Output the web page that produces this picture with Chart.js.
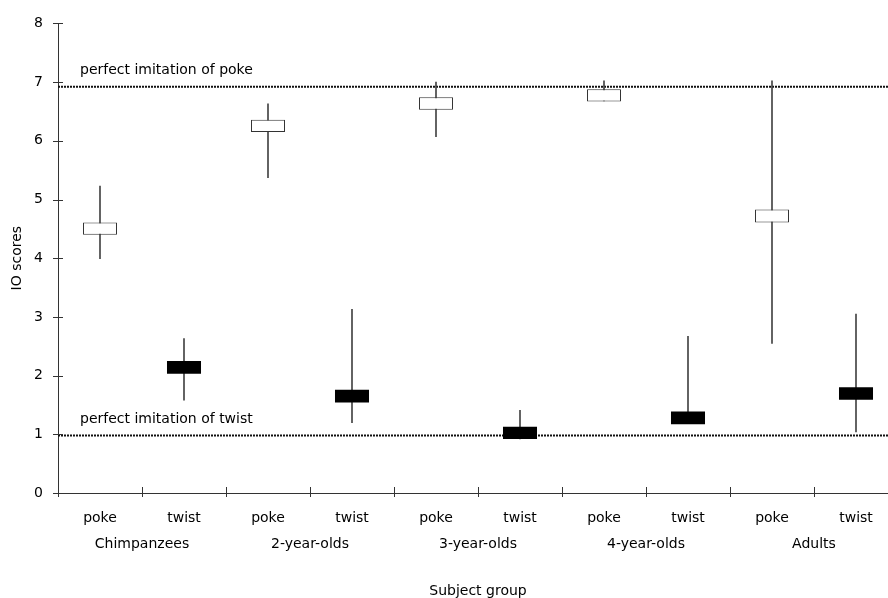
<!DOCTYPE html>
<html lang="en">
<head>
  <meta charset="UTF-8" />
  <title>IO scores by subject group</title>
  <script src="https://cdn.jsdelivr.net/npm/chart.js"></script>
  <style>
    body {
      margin: 0;
      background: #ffffff;
    }

    .wrap {
      width: 888px;
      height: 598px;
      overflow: hidden;
    }
  </style>
</head>
<body>
  <div class="wrap"><canvas id="ioChart" width="900" height="598"></canvas></div>

  <script>
    const categories = ['poke', 'twist', 'poke', 'twist', 'poke', 'twist', 'poke', 'twist', 'poke', 'twist'];
    const groups = ['Chimpanzees', '2-year-olds', '3-year-olds', '4-year-olds', 'Adults'];

    // box edges and whisker ends, one per category
    const boxLow = [4.40, 2.03, 6.15, 1.54, 6.53, 0.92, 6.67, 1.17, 4.61, 1.59];
    const boxHigh = [4.61, 2.25, 6.36, 1.76, 6.74, 1.13, 6.88, 1.39, 4.83, 1.80];
    const whiskerLow = [3.99, 1.58, 5.37, 1.20, 6.07, 0.92, 6.68, 1.18, 2.55, 1.04];
    const whiskerHigh = [5.23, 2.63, 6.63, 3.13, 7.00, 1.41, 7.02, 2.67, 7.02, 3.05];

    const refLines = [6.92, 0.98];
    const refLabels = ['perfect imitation of poke', 'perfect imitation of twist'];

    const FONT = { family: "'DejaVu Sans', sans-serif", size: 14 };

    const pokeBoxes = categories.map((c, i) => c === 'poke' ? [boxLow[i], boxHigh[i]] : null);
    const twistBoxes = categories.map((c, i) => c === 'twist' ? [boxLow[i], boxHigh[i]] : null);
    const whiskers = categories.map((c, i) => [whiskerLow[i], whiskerHigh[i]]);

    // dotted reference lines + their captions
    const refLinePlugin = {
      id: 'refLines',
      beforeDatasetsDraw(chart) {
        const { ctx, chartArea, scales: { y } } = chart;
        ctx.save();
        ctx.strokeStyle = '#111';
        ctx.lineWidth = 2;
        ctx.setLineDash([2, 1]);
        ctx.font = "14px 'DejaVu Sans', sans-serif";
        ctx.fillStyle = '#000';
        ctx.textBaseline = 'middle';
        refLines.forEach((v, i) => {
          const py = y.getPixelForValue(v);
          ctx.beginPath();
          ctx.moveTo(chartArea.left, py);
          ctx.lineTo(chartArea.right, py);
          ctx.stroke();
          ctx.fillText(refLabels[i], chartArea.left + 22, py - 16);
        });
        ctx.restore();
      }
    };

    // small tick marks crossing both axes
    const crossTicks = {
      id: 'crossTicks',
      afterDraw(chart) {
        const { ctx, scales: { x, y } } = chart;
        ctx.save();
        ctx.strokeStyle = '#333';
        ctx.lineWidth = 1;
        ctx.beginPath();
        y.ticks.forEach(t => {
          const py = Math.round(y.getPixelForValue(t.value)) + 0.5;
          ctx.moveTo(x.left - 5, py);
          ctx.lineTo(x.left + 5, py);
        });
        const step = x.width / categories.length;
        for (let i = 0; i <= categories.length; i++) {
          const px = Math.round(x.left + i * step) + 0.5;
          ctx.moveTo(px, y.bottom - 6);
          ctx.lineTo(px, y.bottom + 4);
        }
        ctx.stroke();
        ctx.restore();
      }
    };

    new Chart(document.getElementById('ioChart'), {
      type: 'bar',
      data: {
        labels: categories,
        datasets: [
          {
            label: 'range',
            data: whiskers,
            backgroundColor: '#444',
            barThickness: 1,
            grouped: false,
            order: 3
          },
          {
            label: 'poke',
            data: pokeBoxes,
            backgroundColor: '#ffffff',
            borderColor: '#333',
            borderWidth: 1,
            borderSkipped: false,
            barPercentage: 0.405,
            categoryPercentage: 1,
            grouped: false,
            order: 1
          },
          {
            label: 'twist',
            data: twistBoxes,
            backgroundColor: '#000000',
            borderWidth: 0,
            barPercentage: 0.405,
            categoryPercentage: 1,
            grouped: false,
            order: 1
          }
        ]
      },
      options: {
        responsive: false,
        animation: false,
        layout: { padding: { top: 21, right: 2, left: 0, bottom: 0 } },
        plugins: { legend: { display: false }, tooltip: { enabled: false } },
        scales: {
          y: {
            min: 0,
            max: 8,
            ticks: { stepSize: 1, color: '#000', font: FONT, padding: 15 },
            grid: { display: false, drawTicks: false },
            border: { display: true, color: '#333', width: 1 },
            title: { display: true, text: 'IO scores', color: '#000', font: FONT, padding: { top: 9, bottom: 0 } },
            afterFit: s => { s.width = 58; }
          },
          x: {
            weight: 0,
            ticks: { color: '#000', font: FONT, padding: 17, maxRotation: 0, autoSkip: false },
            grid: { display: false, drawTicks: false },
            border: { display: true, color: '#333', width: 1 },
            afterFit: s => { s.height = 38; }
          },
          x2: {
            type: 'category',
            position: 'bottom',
            weight: 1,
            labels: groups,
            offset: true,
            ticks: { color: '#000', font: FONT, padding: 5, maxRotation: 0, autoSkip: false },
            grid: { display: false, drawTicks: false },
            border: { display: false },
            title: { display: true, text: 'Subject group', color: '#000', font: FONT, padding: { top: 0, bottom: -2 } },
            afterFit: s => { s.height = 67; }
          }
        }
      },
      plugins: [refLinePlugin, crossTicks]
    });
  </script>
</body>
</html>
